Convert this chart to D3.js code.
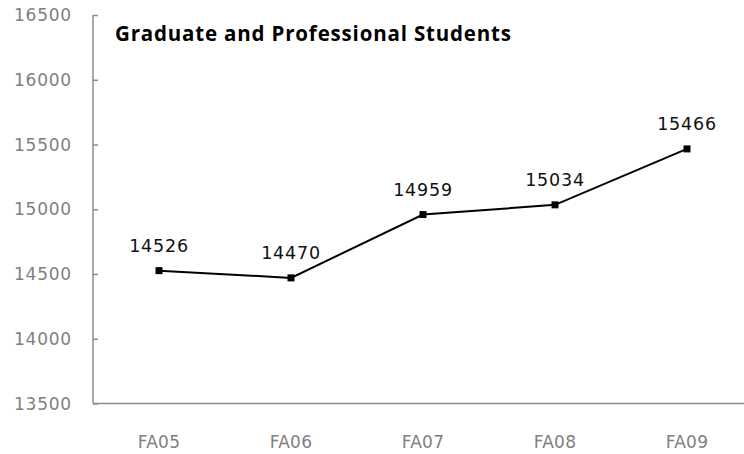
<!DOCTYPE html>
<html>
<head>
<meta charset="utf-8">
<script src="https://cdn.jsdelivr.net/npm/d3@7"></script>
<style>
  html, body { margin: 0; padding: 0; background: #fff; }
  svg { display: block; }
</style>
</head>
<body>
<svg id="chart" width="744" height="454"></svg>
<script>
const categories = ["FA05", "FA06", "FA07", "FA08", "FA09"];
const values = [14526, 14470, 14959, 15034, 15466];
const yTicks = [13500, 14000, 14500, 15000, 15500, 16000, 16500];
const title = "Graduate and Professional Students";

const svg = d3.select("#chart");
const W = 744, H = 454;
const x0 = 93, x1 = 753, yTop = 15, yBot = 403.5;

const x = d3.scaleBand().domain(categories).range([x0, x1]);
const y = d3.scaleLinear().domain([13500, 16500]).range([yBot, yTop]);

const axisColor = "#8c8c8c";
const labelColor = "#7f7f7f";
const numFont = "'DejaVu Sans', sans-serif";

// Y axis
const yAxis = svg.append("g").attr("transform", `translate(${x0},0)`)
  .call(d3.axisRight(y).tickValues(yTicks).tickSize(5).tickFormat(""));
yAxis.select(".domain").attr("stroke", axisColor).attr("stroke-width", 1.5).attr("d", `M0,${yTop}V${yBot}`);
yAxis.selectAll(".tick line").attr("stroke", axisColor).attr("stroke-width", 1.5);

svg.append("g").selectAll("text").data(yTicks).join("text")
  .attr("x", 72).attr("y", d => y(d)).attr("dy", "0.36em")
  .attr("text-anchor", "end")
  .attr("font-family", numFont).attr("font-size", 17).attr("letter-spacing", 0.8)
  .attr("fill", labelColor)
  .text(d => d);

// X axis
const xAxis = svg.append("g").attr("transform", `translate(0,${yBot})`)
  .call(d3.axisBottom(x).tickSize(0).tickFormat(""));
xAxis.select(".domain").attr("stroke", axisColor).attr("stroke-width", 1.5).attr("d", `M${x0},0H${W}`);

svg.append("g").selectAll("text").data(categories).join("text")
  .attr("x", d => x(d) + x.bandwidth() / 2).attr("y", 448)
  .attr("text-anchor", "middle")
  .attr("font-family", numFont).attr("font-size", 17).attr("letter-spacing", 0.3)
  .attr("fill", labelColor)
  .text(d => d);

// Line
const pts = categories.map((c, i) => ({ c, v: values[i] }));
const line = d3.line().x(d => x(d.c) + x.bandwidth() / 2).y(d => y(d.v));
svg.append("path").datum(pts).attr("d", line)
  .attr("fill", "none").attr("stroke", "#000").attr("stroke-width", 2);

svg.append("g").selectAll("rect").data(pts).join("rect")
  .attr("x", d => x(d.c) + x.bandwidth() / 2 - 3.5)
  .attr("y", d => y(d.v) - 3.5)
  .attr("width", 7).attr("height", 7).attr("fill", "#000");

svg.append("g").selectAll("text").data(pts).join("text")
  .attr("x", d => x(d.c) + x.bandwidth() / 2)
  .attr("y", d => y(d.v) - 19)
  .attr("text-anchor", "middle")
  .attr("font-family", numFont).attr("font-size", 17.5).attr("letter-spacing", 0.8)
  .attr("fill", "#111")
  .text(d => d.v);

// Title
svg.append("text").attr("x", 115).attr("y", 41)
  .attr("font-family", "'Open Sans', sans-serif").attr("font-weight", "bold")
  .attr("font-size", 20.5).attr("fill", "#000")
  .attr("textLength", 396).attr("lengthAdjust", "spacing")
  .text(title);
</script>
</body>
</html>
